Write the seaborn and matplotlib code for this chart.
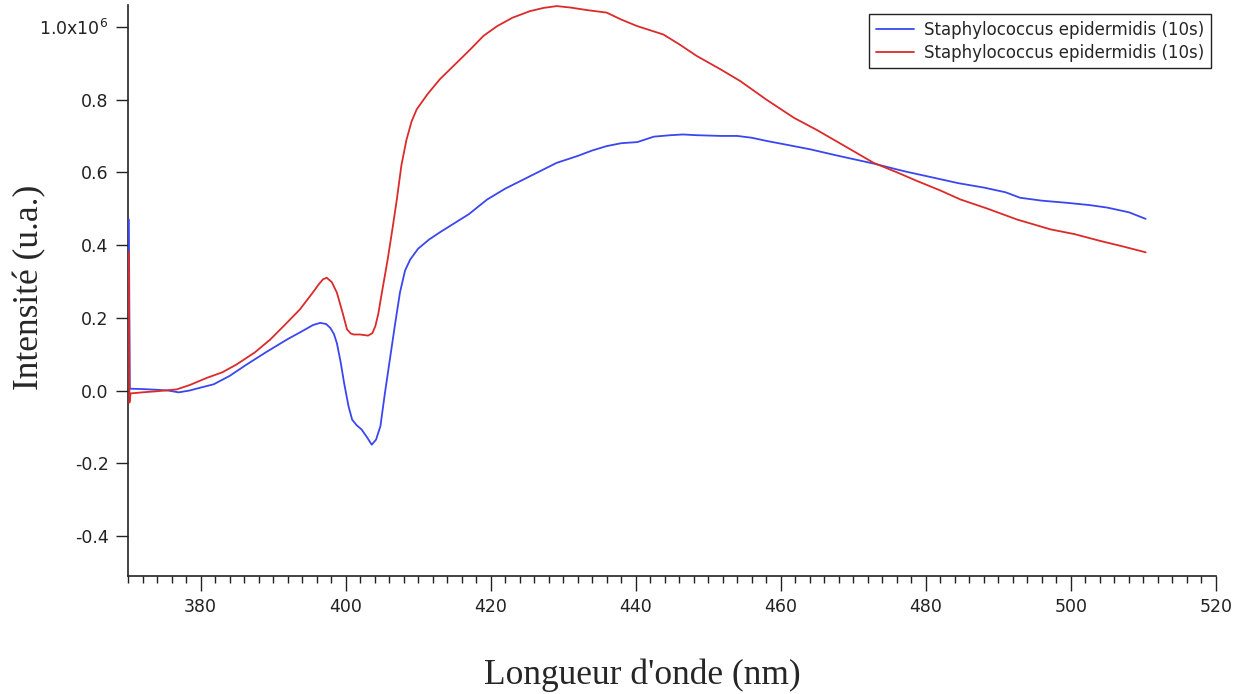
import numpy as np
import pandas as pd
import matplotlib
matplotlib.use("Agg")
import matplotlib.pyplot as plt
from matplotlib.ticker import MultipleLocator, FixedLocator, FixedFormatter
import seaborn as sns

# ---- data (wavelength in nm, intensity in units of 1e6) ----
blue_wl = [370.12, 370.25, 372, 374, 375.5, 377, 378.5, 380, 381.8, 384, 386.4, 389,
           391.9, 394, 395.5, 396.5, 397.3, 397.9, 398.4, 398.8, 399.3, 399.8, 400.4, 400.9,
           401.5, 402.2, 403, 403.6, 404.2, 404.8, 405.4, 406.1, 406.8, 407.5, 408.2, 408.9,
           410, 411.5, 413, 415, 417, 419.5, 422, 424.5, 427, 429.1, 432, 434, 436, 438,
           440.2, 442.5, 444.8, 446.5, 448.4, 451.7, 454, 456, 458.1, 461, 464.1, 468,
           472.8, 477, 481.1, 484.5, 488, 491, 493, 496, 499.5, 502.5, 505, 508, 510.3]
blue_int = [0.47, 0.005, 0.004, 0.002, 0.0, -0.005, 0.0, 0.008, 0.017, 0.04, 0.072, 0.105,
            0.14, 0.163, 0.18, 0.186, 0.183, 0.172, 0.155, 0.13, 0.08, 0.02, -0.043, -0.08,
            -0.095, -0.107, -0.13, -0.149, -0.135, -0.098, -0.01, 0.085, 0.18, 0.27, 0.33, 0.36,
            0.39, 0.415, 0.435, 0.46, 0.485, 0.525, 0.555, 0.58, 0.605, 0.626, 0.645, 0.66,
            0.672, 0.68, 0.683, 0.698, 0.702, 0.704, 0.702, 0.70, 0.70, 0.695, 0.686, 0.675,
            0.663, 0.645, 0.624, 0.603, 0.585, 0.57, 0.558, 0.545, 0.53, 0.522, 0.516, 0.51,
            0.503, 0.49, 0.472]

red_wl = [370.12, 370.2, 370.35, 372, 374, 376.7, 378.5, 380.9, 383, 385, 387.5, 389.6,
          391.5, 393.7, 395.5, 396.3, 396.9, 397.4, 398.1, 398.8, 399.5, 400.2, 400.7, 401.1,
          402, 403.1, 403.7, 404.1, 404.5, 405.0, 405.8, 406.5, 407.06, 407.7, 408.4, 409.1,
          409.8, 411.3, 413.0, 415, 417.2, 419, 420.9, 423, 425.4, 427.3, 429.1, 431, 433.3,
          436, 438, 440.2, 443.8, 446, 448.4, 451.7, 454.4, 458, 461.8, 465, 469, 472.8, 476,
          478.8, 482, 484.8, 488.5, 492.6, 497.2, 500.5, 504.1, 507, 510.3]
red_int = [0.38, -0.033, -0.008, -0.005, -0.002, 0.003, 0.015, 0.035, 0.05, 0.072, 0.105,
           0.14, 0.178, 0.223, 0.27, 0.292, 0.306, 0.31, 0.298, 0.269, 0.22, 0.168, 0.157,
           0.154, 0.154, 0.151, 0.158, 0.177, 0.21, 0.269, 0.36, 0.45, 0.525, 0.62, 0.69,
           0.74, 0.773, 0.815, 0.856, 0.895, 0.938, 0.975, 1.002, 1.025, 1.043, 1.052, 1.057,
           1.053, 1.046, 1.039, 1.02, 1.002, 0.979, 0.952, 0.92, 0.883, 0.851, 0.80, 0.75,
           0.716, 0.67, 0.626, 0.60, 0.576, 0.55, 0.525, 0.50, 0.47, 0.443, 0.43, 0.411,
           0.397, 0.38]

series_label = "Staphylococcus epidermidis (10s)"
y_ticks = [-0.4, -0.2, 0.0, 0.2, 0.4, 0.6, 0.8, 1.0]
y_tick_labels = ["-0.4", "-0.2", "0.0", "0.2", "0.4", "0.6", "0.8", r"1.0x10$^{6}$"]
x_ticks = [380, 400, 420, 440, 460, 480, 500, 520]

blue_df = pd.DataFrame({"wl": blue_wl, "val": blue_int})
red_df = pd.DataFrame({"wl": red_wl, "val": red_int})

sns.set_style("ticks")
plt.rcParams["font.family"] = ["DejaVu Sans"]

fig = plt.figure(figsize=(12.45, 6.94), dpi=100)
ax = fig.add_axes([128 / 1245, 1 - 576 / 694, (1216 - 128) / 1245, (576 - 5) / 694])

sns.lineplot(data=blue_df, x="wl", y="val", ax=ax, color="#3a46f0", lw=1.3,
             label=series_label, sort=False, estimator=None, zorder=3)
sns.lineplot(data=red_df, x="wl", y="val", ax=ax, color="#dc2a2a", lw=1.3,
             label=series_label, sort=False, estimator=None, zorder=3)

ax.set_xlim(370, 520)
ax.set_ylim(-0.51, 1.06)
ax.xaxis.set_major_locator(FixedLocator(x_ticks))
ax.xaxis.set_minor_locator(MultipleLocator(2))
ax.yaxis.set_major_locator(FixedLocator(y_ticks))
ax.yaxis.set_major_formatter(FixedFormatter(y_tick_labels))
ax.set_xticklabels([str(t) for t in x_ticks])

for s in ["top", "right"]:
    ax.spines[s].set_visible(False)
for s in ["left", "bottom"]:
    ax.spines[s].set_linewidth(1.2)
    ax.spines[s].set_color("#222222")

ax.tick_params(axis="both", which="major", direction="out", length=9, width=1.0,
               colors="#222222", labelsize=12.5, pad=5)
ax.tick_params(axis="x", which="minor", direction="out", length=5, width=1.0, colors="#222222")
ax.tick_params(axis="x", which="major", length=11, pad=5)
ax.tick_params(axis="y", which="minor", length=0)
ax.set_xlabel("")
ax.set_ylabel("")

fig.text(642 / 1245, 1 - 675 / 694, "Longueur d'onde (nm)", family="Liberation Serif",
         fontsize=25.5, ha="center", va="center")
fig.text(30 / 1245, 1 - 287 / 694, "Intensité (u.a.)", family="Liberation Serif",
         fontsize=25.5, ha="center", va="center", rotation=90)

leg = ax.legend(loc="upper right", bbox_to_anchor=(1211 / 1245, 1 - 14 / 694),
                bbox_transform=fig.transFigure, fontsize=12, frameon=True, fancybox=False,
                handlelength=2.3, handletextpad=0.6, borderpad=0.4, labelspacing=0.3,
                borderaxespad=0)
leg.get_frame().set_edgecolor("#222222")
leg.get_frame().set_linewidth(1.0)
leg.get_frame().set_alpha(1)

fig.savefig("out.png", dpi=100)
